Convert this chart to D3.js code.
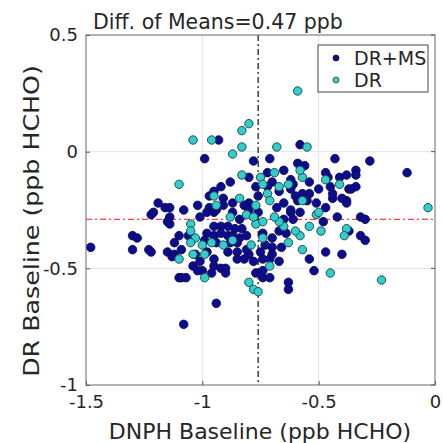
<!DOCTYPE html>
<html>
<head>
<meta charset="utf-8">
<script src="https://cdn.jsdelivr.net/npm/d3@7"></script>
<style>
  body { margin: 0; background: #fff; }
  svg text { font-family: "DejaVu Sans", sans-serif; fill: #262626; }
</style>
</head>
<body>
<div id="chart"></div>
<script>
'use strict';

// DR+MS points: [DNPH baseline, DR baseline]
const drmsPoints = [
  [-1.48,-0.41],[-1.30,-0.36],[-1.28,-0.37],[-1.30,-0.42],[-1.23,-0.42],[-1.22,-0.43],
  [-1.19,-0.22],[-1.16,-0.24],[-1.14,-0.24],[-1.22,-0.27],[-1.21,-0.26],[-1.14,-0.28],
  [-1.15,-0.30],[-1.14,-0.31],[-1.08,-0.25],[-1.10,-0.36],[-1.12,-0.39],[-1.15,-0.43],
  [-1.12,-0.44],[-1.13,-0.45],[-1.09,-0.42],[-1.10,-0.54],[-1.09,-0.54],[-1.07,-0.54],
  [-1.08,-0.74],[-0.94,-0.65],[-0.93,0.05],[-0.99,-0.03],[-0.78,-0.04],[-0.80,-0.11],
  [-0.88,-0.13],[-0.92,-0.15],[-0.97,-0.19],[-0.95,-0.17],[-0.91,-0.20],[-0.77,-0.15],
  [-1.02,-0.23],[-0.87,-0.22],[-0.80,-0.22],[-0.58,0.03],[-0.71,-0.03],[-0.43,-0.03],
  [-0.28,-0.04],[-0.12,-0.09],[-0.65,-0.08],[-0.59,-0.05],[-0.56,-0.06],[-0.34,-0.08],
  [-0.34,-0.10],[-0.38,-0.10],[-0.41,-0.11],[-0.46,-0.11],[-0.50,-0.16],[-0.45,-0.15],
  [-0.44,-0.20],[-0.38,-0.21],[-0.34,-0.15],[-0.37,-0.16],[-0.54,-0.18],[-0.57,-0.18],
  [-0.61,-0.14],[-0.60,-0.19],[-0.62,-0.12],[-0.70,-0.13],[-0.36,-0.16],[-0.38,-0.22],
  [-0.32,-0.28],[-0.30,-0.29],[-0.37,-0.34],[-0.32,-0.36],[-0.30,-0.38],[-0.40,-0.44],
  [-0.42,-0.28],[-0.47,-0.43],[-0.54,-0.46],[-0.52,-0.51],[-0.48,-0.30],[-0.47,-0.24],
  [-0.51,-0.22],[-0.58,-0.26],[-0.61,-0.29],[-0.64,-0.35],[-0.70,-0.37],[-0.70,-0.41],
  [-0.70,-0.44],[-0.66,-0.41],[-0.67,-0.47],[-0.71,-0.46],[-0.75,-0.43],[-0.74,-0.46],
  [-0.77,-0.52],[-0.74,-0.54],[-0.71,-0.54],[-0.63,-0.56],[-0.63,-0.59],[-0.74,-0.35],
  [-0.80,-0.44],[-0.62,-0.26],[-0.65,-0.29],[-0.97,-0.24],[-0.91,-0.23],[-0.82,-0.23],
  [-0.80,-0.25],[-0.98,-0.26],[-0.95,-0.26],[-0.94,-0.25],[-0.87,-0.26],[-0.84,-0.29],
  [-0.95,-0.32],[-0.92,-0.32],[-0.89,-0.32],[-0.86,-0.33],[-0.83,-0.33],[-0.98,-0.35],
  [-0.95,-0.36],[-0.92,-0.35],[-0.89,-0.36],[-0.87,-0.36],[-0.84,-0.37],[-0.81,-0.36],
  [-0.99,-0.38],[-0.94,-0.39],[-0.88,-0.39],[-0.85,-0.39],[-1.03,-0.44],[-0.98,-0.43],
  [-0.89,-0.43],[-0.85,-0.43],[-0.81,-0.42],[-0.85,-0.46],[-0.82,-0.46],[-0.78,-0.47],
  [-0.95,-0.46],[-1.01,-0.47],[-1.04,-0.49],[-1.00,-0.51],[-0.95,-0.49],[-1.02,-0.51],
  [-0.96,-0.52],[-0.92,-0.50],[-0.90,-0.50],[-0.90,-0.52],[-0.74,-0.51],[-0.72,-0.09],
  [-0.72,-0.15],[-0.47,-0.09],[-0.62,-0.16],[-0.54,-0.13],[-0.44,-0.18],[-0.40,-0.20],
  [-0.59,-0.21],[-0.55,-0.21],[-0.65,-0.22],[-0.62,-0.25],[-0.76,-0.26],[-0.68,-0.24],
  [-0.67,-0.34],[-0.73,-0.40],[-0.76,-0.19],[-0.67,-0.17],[-1.01,-0.28],[-1.06,-0.36]
];

// DR points
const drPoints = [
  [-0.80,0.12],[-0.83,0.09],[-1.04,0.05],[-0.96,0.05],[-0.83,0.02],[-0.87,-0.01],
  [-0.83,-0.10],[-1.10,-0.14],[-0.95,-0.19],[-0.84,-0.20],[-0.94,-0.23],[-0.59,0.26],
  [-0.68,0.02],[-0.55,0.02],[-0.03,-0.24],[-0.75,-0.11],[-0.69,-0.09],[-0.74,-0.14],
  [-0.67,-0.15],[-0.63,-0.14],[-0.57,-0.11],[-0.58,-0.08],[-0.72,-0.18],[-0.71,-0.21],
  [-0.57,-0.21],[-0.41,-0.14],[-0.77,-0.23],[-0.38,-0.33],[-0.39,-0.36],[-0.23,-0.55],
  [-0.45,-0.52],[-0.57,-0.42],[-0.49,-0.34],[-0.51,-0.27],[-0.50,-0.26],[-0.54,-0.32],
  [-0.58,-0.36],[-0.60,-0.34],[-0.63,-0.39],[-0.65,-0.32],[-0.67,-0.30],[-0.69,-0.28],
  [-0.74,-0.37],[-0.77,-0.31],[-0.71,-0.49],[-0.78,-0.59],[-0.76,-0.60],[-0.80,-0.56],
  [-0.88,-0.28],[-0.81,-0.27],[-0.78,-0.28],[-0.74,-0.30],[-1.05,-0.31],[-1.05,-0.34],
  [-1.03,-0.37],[-1.05,-0.39],[-1.00,-0.40],[-0.96,-0.39],[-0.91,-0.40],[-0.87,-0.38],
  [-0.79,-0.40],[-1.04,-0.44],[-0.99,-0.44],[-0.99,-0.54],[-1.10,-0.46],[-0.47,-0.12]
];

const meanDNPH = -0.76;
const meanDR = -0.29;
const titleText = 'Diff. of Means=0.47 ppb';
const xTicks = [-1.5, -1, -0.5, 0];
const yTicks = [-1, -0.5, 0, 0.5];
const seriesNames = ['DR+MS', 'DR'];

const W = 443, H = 443;
const margin = {top: 35, right: 8, bottom: 58, left: 86};
const width = W - margin.left - margin.right,
      height = H - margin.top - margin.bottom;

const colors = {'DR+MS': '#0c0c8c', 'DR': '#33cccc'};
const edges = {'DR+MS': '#0a0a50', 'DR': '#1f4f4f'};
const fmt = d => String(d);

const svg = d3.select('#chart').append('svg')
    .attr('width', W)
    .attr('height', H);

const g = svg.append('g')
    .attr('transform', 'translate(' + margin.left + ',' + margin.top + ')');

const x = d3.scaleLinear().domain([-1.5, 0]).range([0, width]);
const y = d3.scaleLinear().domain([-1, 0.5]).range([height, 0]);

// grid
g.append('g')
    .selectAll('line')
    .data(xTicks.slice(1, -1))
    .enter().append('line')
    .attr('x1', d => x(d)).attr('x2', d => x(d))
    .attr('y1', 0).attr('y2', height)
    .attr('stroke', '#e3e3e3').attr('stroke-width', 1);

g.append('g')
    .selectAll('line')
    .data(yTicks.slice(1, -1))
    .enter().append('line')
    .attr('y1', d => y(d)).attr('y2', d => y(d))
    .attr('x1', 0).attr('x2', width)
    .attr('stroke', '#e3e3e3').attr('stroke-width', 1);

// mean lines
g.append('line')
    .attr('x1', 0).attr('x2', width)
    .attr('y1', y(meanDR)).attr('y2', y(meanDR))
    .attr('stroke', '#ff4040').attr('stroke-width', 1.4)
    .attr('stroke-dasharray', '6,3,2,3');

g.append('line')
    .attr('x1', x(meanDNPH)).attr('x2', x(meanDNPH))
    .attr('y1', 0).attr('y2', height)
    .attr('stroke', '#222').attr('stroke-width', 1.3)
    .attr('stroke-dasharray', '6,3,2,3');

// points
g.append('g')
    .selectAll('circle')
    .data(drmsPoints)
    .enter().append('circle')
    .attr('cx', d => x(d[0]))
    .attr('cy', d => y(d[1]))
    .attr('r', 4.3)
    .attr('fill', colors['DR+MS'])
    .attr('stroke', edges['DR+MS'])
    .attr('stroke-width', 0.8);

g.append('g')
    .selectAll('circle')
    .data(drPoints)
    .enter().append('circle')
    .attr('cx', d => x(d[0]))
    .attr('cy', d => y(d[1]))
    .attr('r', 4.2)
    .attr('fill', colors['DR'])
    .attr('stroke', edges['DR'])
    .attr('stroke-width', 1);

// axes
const xAxis = g.append('g')
    .attr('transform', 'translate(0,' + height + ')')
    .call(d3.axisBottom(x).tickValues(xTicks).tickSize(-4).tickPadding(10).tickFormat(fmt));
xAxis.select('.domain').remove();
xAxis.selectAll('.tick line').attr('stroke', '#555');
xAxis.selectAll('.tick text').attr('font-size', 18).attr('dy', '0.72em');

const yAxis = g.append('g')
    .call(d3.axisLeft(y).tickValues(yTicks).tickSize(-4).tickPadding(8).tickFormat(fmt));
yAxis.select('.domain').remove();
yAxis.selectAll('.tick line').attr('stroke', '#555');
yAxis.selectAll('.tick text').attr('font-size', 18);

// right-side ticks
g.append('g')
    .selectAll('line')
    .data(yTicks)
    .enter().append('line')
    .attr('x1', width).attr('x2', width - 4)
    .attr('y1', d => y(d)).attr('y2', d => y(d))
    .attr('stroke', '#555');

// box
g.append('rect')
    .attr('width', width).attr('height', height)
    .attr('fill', 'none').attr('stroke', '#666').attr('stroke-width', 1);

// labels
svg.append('text')
    .attr('x', 260)
    .attr('y', 439)
    .attr('text-anchor', 'middle')
    .attr('font-size', 22)
    .text('DNPH Baseline (ppb HCHO)');

svg.append('text')
    .attr('transform', 'translate(39,221) rotate(-90) scale(1.15,1)')
    .attr('text-anchor', 'middle')
    .attr('font-size', 22)
    .text('DR Baseline (ppb HCHO)');

svg.append('text')
    .attr('x', 93)
    .attr('y', 29)
    .attr('font-size', 20.5)
    .text(titleText);

// legend
const legend = g.append('g').attr('transform', 'translate(' + (width - 117) + ',10)');
legend.append('rect')
    .attr('width', 110).attr('height', 47)
    .attr('fill', '#fff').attr('stroke', '#444').attr('stroke-width', 1);

const items = legend.selectAll('.item')
    .data(seriesNames)
    .enter().append('g')
    .attr('class', 'item')
    .attr('transform', (d, i) => 'translate(0,' + (13 + i * 22) + ')');

items.append('circle')
    .attr('cx', 18).attr('cy', 0).attr('r', 3)
    .attr('fill', d => colors[d])
    .attr('stroke', d => edges[d])
    .attr('stroke-width', 0.8);

items.append('text')
    .attr('x', 36).attr('dy', '0.35em')
    .attr('font-size', 19)
    .text(d => d);
</script>
</body>
</html>
